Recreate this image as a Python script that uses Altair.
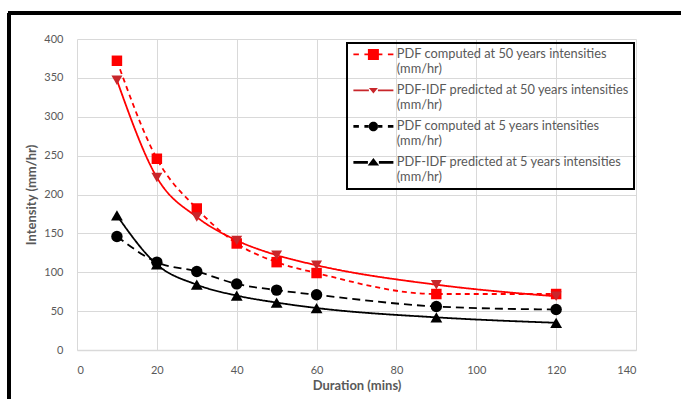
import altair as alt
import pandas as pd

durations = [10, 20, 30, 40, 50, 60, 90, 120]
pdf50 = [372, 246, 182, 137, 113, 99, 72, 72]
idf50 = [347, 222, 171, 141, 122, 109, 84, 69]
pdf5 = [146, 113, 101, 85, 77, 71, 56, 52]
idf5 = [173, 110, 84, 70, 61, 54, 42, 35]

names = [
    "PDF computed at 50 years intensities (mm/hr)",
    "PDF-IDF predicted at 50 years intensities (mm/hr)",
    "PDF computed at 5 years intensities (mm/hr)",
    "PDF-IDF predicted at 5 years intensities (mm/hr)",
]
series_values = [pdf50, idf50, pdf5, idf5]

rows = []
for k, (name, vals) in enumerate(zip(names, series_values)):
    for d, v in zip(durations, vals):
        rows.append({"duration": d, "intensity": v, "series": name, "k": k})
df = pd.DataFrame(rows)

line_colors = ["#ff0000", "#ff0000", "#000000", "#000000"]
point_colors = ["#ff0000", "#c8262b", "#000000", "#000000"]
dashes = [[5, 4], [1, 0], [8, 5], [1, 0]]
widths = [1.8, 1.8, 2.8, 2.6]
shapes = ["square", "triangle-down", "circle", "triangle-up"]
sizes = [110, 140, 90, 140]

# legend symbols: line segment + marker (path unit = 5 px)
legend_paths = [
    "M-4,-0.18H-2.9V0.18H-4Z M-1.8,-0.18H-1.1V0.18H-1.8Z M1.1,-0.18H1.8V0.18H1.1Z M2.9,-0.18H4V0.18H2.9Z M-1.1,-1.1H1.1V1.1H-1.1Z",
    "M-4,-0.18H-0.9V0.18H-4Z M0.9,-0.18H4V0.18H0.9Z M-0.9,-0.5L0.9,-0.5L0,0.6Z",
    "M-4,-0.28H-2.9V0.28H-4Z M-1.8,-0.28H-0.9V0.28H-1.8Z M0.9,-0.28H1.8V0.28H0.9Z M2.9,-0.28H4V0.28H2.9Z M-0.95,0A0.95,0.95 0 1,0 0.95,0A0.95,0.95 0 1,0 -0.95,0Z",
    "M-4,-0.28H-1.1V0.28H-4Z M1.1,-0.28H4V0.28H1.1Z M-1.15,0.6L1.15,0.6L0,-0.9Z",
]

font = "Lato"
grey = "#595959"

x_enc = alt.X("duration:Q", scale=alt.Scale(domain=[0, 140], nice=False),
              axis=alt.Axis(values=list(range(0, 141, 20)), title="Duration (mins)",
                            grid=True, gridColor="#d9d9d9", domainColor="#d9d9d9",
                            domainWidth=1.5, ticks=False, labelPadding=14,
                            labelColor=grey, labelFontSize=11, labelFont=font,
                            titleColor=grey, titleFontSize=13, titleFont=font,
                            titleFontWeight="bold", titlePadding=4))
y_enc = alt.Y("intensity:Q", scale=alt.Scale(domain=[0, 400], nice=False),
              axis=alt.Axis(values=list(range(0, 401, 50)), title="Intensity (mm/hr)",
                            grid=True, gridColor="#d9d9d9", domain=False,
                            ticks=False, labelPadding=14,
                            labelColor=grey, labelFontSize=11, labelFont=font,
                            titleColor=grey, titleFontSize=13, titleFont=font,
                            titleFontWeight="bold", titlePadding=5))

base = alt.Chart(df)

lines = base.mark_line(interpolate="monotone").encode(
    x=x_enc, y=y_enc,
    color=alt.Color("series:N", scale=alt.Scale(domain=names, range=line_colors), legend=None),
    strokeDash=alt.StrokeDash("series:N", scale=alt.Scale(domain=names, range=dashes), legend=None),
    strokeWidth=alt.StrokeWidth("series:N", scale=alt.Scale(domain=names, range=widths), legend=None),
)

points = base.mark_point(filled=True, opacity=1).encode(
    x=x_enc, y=y_enc,
    color=alt.Color("series:N", scale=alt.Scale(domain=names, range=point_colors), legend=None),
    shape=alt.Shape("series:N", scale=alt.Scale(domain=names, range=shapes), legend=None),
    size=alt.Size("series:N", scale=alt.Scale(domain=names, range=sizes), legend=None),
    order=alt.Order("k:Q", sort="ascending"),
)

leg = alt.Legend(
    title=None, orient="none", legendX=270, legendY=4,
    labelExpr="[replace(datum.label, ' (mm/hr)', ''), '(mm/hr)']",
    labelFont=font, labelFontSize=12.8, labelColor=grey, labelLimit=400,
    labelOffset=17, strokeColor="black", padding=5, rowPadding=8,
    symbolStrokeWidth=0, symbolSize=100, symbolOffset=15,
)

legend_layer = base.transform_filter("datum.duration < 0").mark_point(
    filled=True, opacity=1, size=100).encode(
    x=x_enc, y=y_enc,
    color=alt.Color("series:N", scale=alt.Scale(domain=names, range=point_colors), legend=leg),
    shape=alt.Shape("series:N", scale=alt.Scale(domain=names, range=legend_paths), legend=leg),
)

border_left = alt.Chart(df).mark_rule(color="black", strokeWidth=3).encode(
    x=alt.value(-68), y=alt.value(-26), y2=alt.value(400))
border_top = alt.Chart(df).mark_rule(color="black", strokeWidth=3).encode(
    x=alt.value(-69), x2=alt.value(700), y=alt.value(-26))

chart = alt.layer(lines, points, legend_layer, border_left, border_top).resolve_scale(
    color="independent", shape="independent", size="independent"
).properties(
    width=559, height=311,
    autosize=alt.AutoSizeParams(type="none"),
    padding={"left": 77, "top": 39, "right": 45, "bottom": 49},
).configure_view(stroke=None).configure_legend(strokeWidth=2)

chart.save("out.html", embed_options={"renderer": "svg", "actions": False})
